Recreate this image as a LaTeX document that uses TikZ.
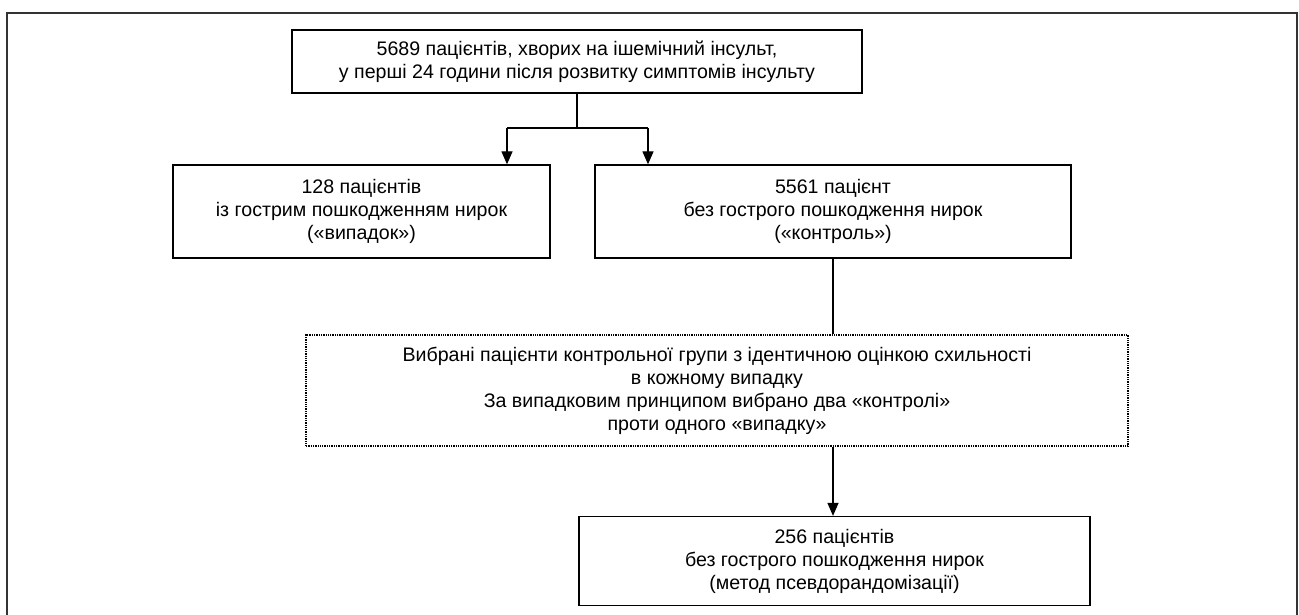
\documentclass[tikz,border=0pt]{standalone}
\usepackage{fontspec}
\setmainfont{Liberation Sans}
\usetikzlibrary{arrows.meta}
\begin{document}
\begin{tikzpicture}[x=1pt,y=1pt,
  box/.style={draw=black, line width=1.3pt, align=center, inner sep=0pt,
    font=\fontsize{19.6}{23}\selectfont},
  dotbox/.style={box, densely dotted, line width=1.6pt},
  conn/.style={line width=1.3pt},
  arr/.style={conn, -{Triangle[length=13pt,width=11pt]}}]
\useasboundingbox (0,0) rectangle (1299,-615);
\draw[line width=2pt, draw=black!80] (7,-615) -- (7,-13) -- (1297,-13) -- (1297,-615);
\node[box, minimum width=570pt, minimum height=63pt] (top) at (577,-61.5)
  {5689 пацієнтів, хворих на ішемічний інсульт,\\у перші 24 години після розвитку симптомів інсульту};
\node[box, minimum width=377pt, minimum height=93pt] (case) at (361.5,-211.5)
  {128 пацієнтів\\із гострим пошкодженням нирок\\(«випадок»)};
\node[box, minimum width=476pt, minimum height=93pt] (ctrl) at (833,-211.5)
  {5561 пацієнт\\без гострого пошкодження нирок\\(«контроль»)};
\node[dotbox, minimum width=822pt, minimum height=111pt] (sel) at (717,-390.5)
  {Вибрані пацієнти контрольної групи з ідентичною оцінкою схильності\\в кожному випадку\\За випадковим принципом вибрано два «контролі»\\проти одного «випадку»};
\node[box, minimum width=511pt, minimum height=89pt] (res) at (834.5,-561)
  {256 пацієнтів\\без гострого пошкодження нирок\\(метод псевдорандомізації)};
\coordinate (split) at (577,-128);
\coordinate (sl) at (507,-128);
\coordinate (sr) at (648,-128);
\draw[conn] (top.south) -- (split);
\draw[conn] (sl) -- (sr);
\draw[arr] (sl) -- (sl |- case.north);
\draw[arr] (sr) -- (sr |- ctrl.north);
\draw[conn] (ctrl.south) -- (ctrl.south |- sel.north);
\draw[arr] (ctrl.south |- sel.south) -- (ctrl.south |- res.north);
\end{tikzpicture}
\end{document}
